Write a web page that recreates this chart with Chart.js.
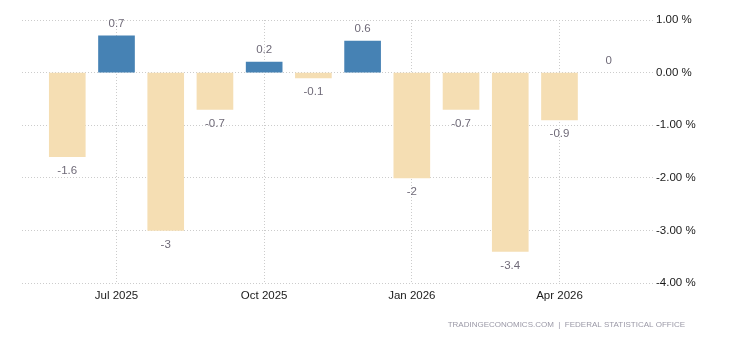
<!DOCTYPE html>
<html lang="en">
<head>
    <meta charset="UTF-8">
    <title>Monthly change</title>
    <script src="https://cdn.jsdelivr.net/npm/chart.js"></script>
    <style>
        html, body { margin: 0; padding: 0; background: #ffffff; }
        .wrap { width: 730px; height: 340px; position: relative; }
    </style>
</head>
<body>
    <div class="wrap"><canvas id="chart"></canvas></div>

    <script>
        // --- Data ---
        const months = ['Jun 2025', 'Jul 2025', 'Aug 2025', 'Sep 2025', 'Oct 2025', 'Nov 2025',
                        'Dec 2025', 'Jan 2026', 'Feb 2026', 'Mar 2026', 'Apr 2026', 'May 2026'];
        const values = [-1.6, 0.7, -3, -0.7, 0.2, -0.1, 0.6, -2, -0.7, -3.4, -0.9, 0];
        const xTickLabels = ['Jul 2025', 'Oct 2025', 'Jan 2026', 'Apr 2026'];
        const yTicks = [1, 0, -1, -2, -3, -4];
        const source = 'TRADINGECONOMICS.COM  |  FEDERAL STATISTICAL OFFICE';

        const xTickIdx = xTickLabels.map(l => months.indexOf(l));
        const gridColor = '#cccccc';

        // value labels above / below each bar
        const valueLabels = {
            id: 'valueLabels',
            afterDatasetsDraw(chart) {
                const ctx = chart.ctx;
                const meta = chart.getDatasetMeta(0);
                ctx.save();
                ctx.font = '11.5px "Liberation Sans", Arial, sans-serif';
                ctx.fillStyle = '#6f6a78';
                ctx.textAlign = 'center';
                ctx.textBaseline = 'middle';
                meta.data.forEach((bar, i) => {
                    const v = values[i];
                    const y = v >= 0 ? bar.y - 12 : bar.y + 14;
                    ctx.fillText(String(v), bar.x, y);
                });
                ctx.restore();
            }
        };

        const footer = {
            id: 'footer',
            afterDraw(chart) {
                const ctx = chart.ctx;
                ctx.save();
                ctx.font = '8px "Liberation Sans", Arial, sans-serif';
                ctx.fillStyle = '#9a98a6';
                ctx.textAlign = 'right';
                ctx.textBaseline = 'middle';
                ctx.fillText(source, 685, 325);
                ctx.restore();
            }
        };

        new Chart(document.getElementById('chart'), {
            type: 'bar',
            data: {
                datasets: [{
                    data: values.map((v, i) => ({ x: i, y: v })),
                    backgroundColor: values.map(v => v > 0 ? '#4682b4' : (v < 0 ? '#f5deb3' : 'rgba(0,0,0,0)')),
                    barThickness: 36,
                    borderWidth: 0
                }]
            },
            options: {
                responsive: true,
                maintainAspectRatio: false,
                animation: false,
                layout: { padding: { top: 20, right: 0, bottom: 0, left: 22 } },
                plugins: { legend: { display: false }, tooltip: { enabled: false } },
                scales: {
                    x: {
                        type: 'linear',
                        offset: false,
                        min: -0.92,
                        max: 11.9,
                        afterBuildTicks: s => { s.ticks = xTickIdx.map(v => ({ value: v })); },
                        afterFit: s => { s.height = 57; },
                        ticks: {
                            autoSkip: false,
                            maxRotation: 0,
                            padding: 6,
                            color: '#1a1a1a',
                            font: { family: '"Liberation Sans", Arial, sans-serif', size: 11.5 },
                            callback: v => months[v]
                        },
                        grid: { color: gridColor, drawTicks: false, lineWidth: 1, offset: false },
                        border: { display: false, dash: [1, 2] }
                    },
                    y: {
                        position: 'right',
                        min: -4,
                        max: 1,
                        afterBuildTicks: s => { s.ticks = yTicks.map(v => ({ value: v })); },
                        afterFit: s => { s.width = 77; },
                        ticks: {
                            padding: 3,
                            color: '#1a1a1a',
                            font: { family: '"Liberation Sans", Arial, sans-serif', size: 11.5 },
                            callback: v => v.toFixed(2) + ' %'
                        },
                        grid: { color: gridColor, drawTicks: false, lineWidth: 1 },
                        border: { display: false, dash: [1, 2] }
                    }
                }
            },
            plugins: [valueLabels, footer]
        });
    </script>
</body>
</html>
